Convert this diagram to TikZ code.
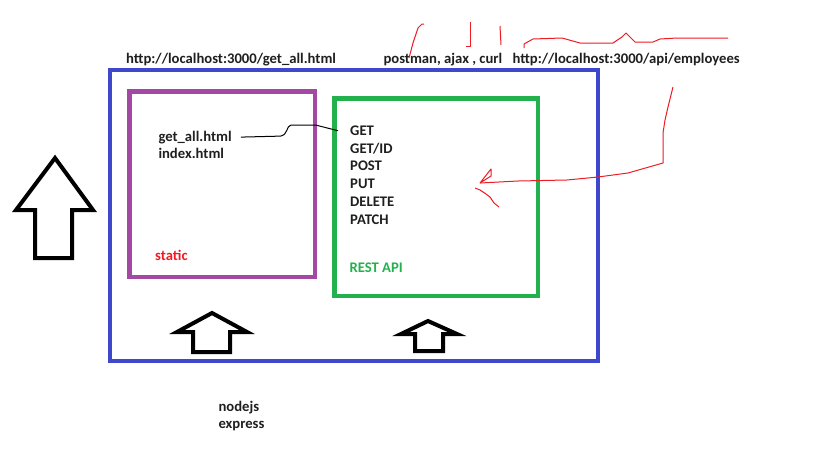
\documentclass[tikz,border=0pt]{standalone}
\usepackage{fontspec}
\setmainfont{Carlito}
\usetikzlibrary{positioning}

\definecolor{paintblue}{RGB}{63,72,204}
\definecolor{paintpurple}{RGB}{163,73,164}
\definecolor{paintgreen}{RGB}{34,177,76}
\definecolor{paintred}{RGB}{237,28,36}

\begin{document}
\begin{tikzpicture}[x=1pt,y=-1pt,line join=round,
        lbl/.style={anchor=base west,inner sep=0pt,text=black!88,font=\fontsize{14.67}{17.7}\selectfont\bfseries},
        box/.style={line width=4.5pt,line join=miter},
        fatarrow/.style={draw=black,line width=4pt,line join=miter,fill=white},
        scribble/.style={draw=paintred,line width=1pt}]
        \useasboundingbox (0,0) rectangle (813,456);

        % outer boxes
        \draw[box,paintblue]   (110,70)    rectangle (598,361);
        \draw[box,paintpurple] (129.5,91.5) rectangle (315,277);
        \draw[box,paintgreen]  (334.5,98.5) rectangle (538,296);

        % urls above the box
        \node[lbl] (url)    at (126,63.3)   {http://localhost:3000/get\_all.html};
        \node[lbl] (client) at (383.3,63.3) {postman, ajax , curl};
        \node[lbl] (apiurl) at (512.3,63.3) {http://localhost:3000/api/employees};

        % static part
        \node[lbl] (getall) at (158.3,141)  {get\_all.html};
        \node[lbl] (index)  at (158.3,158.7) {index.html};
        \node[lbl,text=paintred] (static) at (155,260) {static};

        % rest api part
        \node[lbl] (get)    at (350,135.5)  {GET};
        \node[lbl] (getid)  at (350,153.2)  {GET/ID};
        \node[lbl] (post)   at (350,170.9)  {POST};
        \node[lbl] (put)    at (350,188.6)  {PUT};
        \node[lbl] (delete) at (350,206.3)  {DELETE};
        \node[lbl] (patch)  at (350,224)    {PATCH};
        \node[lbl,text=paintgreen] (rest) at (349.3,272.7) {REST API};

        % stack below
        \node[lbl] (nodejs)  at (218.3,411.7) {nodejs};
        \node[lbl] (express) at (218.3,428.4) {express};

        % get_all.html talks to GET
        \draw[line width=1pt] ([xshift=9pt]getall.east) -- ++(40,-1)
            .. controls +(6,0) and +(-4,0) .. ++(10,-11) -- ++(25,0) -- ([xshift=-12pt]get.west);

        % hollow arrows
        \draw[fatarrow] (55,158) -- (93,210) -- (72,210) -- (72,258) -- (35,258) -- (35,210) -- (16,210) -- cycle;
        \draw[fatarrow] (212,313) -- (247,332) -- (230,332) -- (230,352) -- (193,352) -- (193,332) -- (177,332) -- cycle;
        \draw[fatarrow] (428,321) -- (457,334) -- (443,334) -- (443,351) -- (415,351) -- (415,334) -- (401,334) -- cycle;

        % red pen marks
        \draw[scribble] (409,58) -- (413,43) -- (418,28) -- (422,24) -- (424,24);
        \draw[scribble] (470,22) -- (470,46) -- (466,46);
        \draw[scribble] (500,26) -- (501,45);
        \draw[scribble] (524,48) -- (524,44) -- (533,39) -- (562,38) -- (580,43) -- (613,43)
            -- (622,37) -- (626,33) -- (630,37) -- (635,42) -- (653,42) -- (660,39) -- (677,38) -- (728,38);

        \coordinate (tail) at (673,87);
        \coordinate (tip)  at (480,183);
        \draw[scribble] (tail) -- (668,107) -- (665,120) -- (663,133) -- (663,163) -- (628,173)
            -- (598,177) -- (567,180) -- (518,181) -- (tip);
        \draw[scribble] (tip) -- (491,169) -- (491,176) -- cycle;
        \draw[scribble] (475,188) -- (480,190) -- (486,194) -- (490,197) -- (494,203) -- (499,207);
      \end{tikzpicture}
\end{document}
